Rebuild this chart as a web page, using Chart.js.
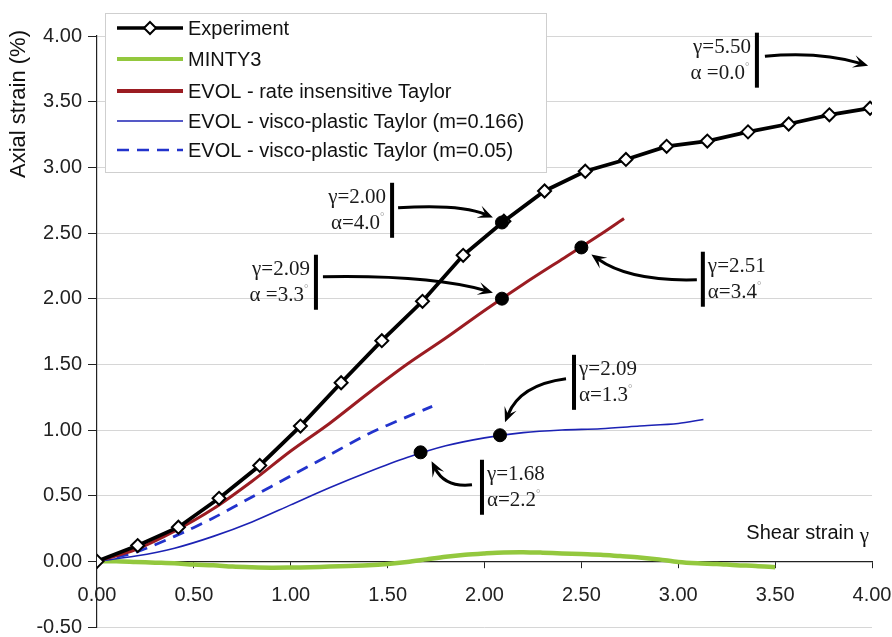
<!DOCTYPE html>
<html>
<head>
<meta charset="utf-8">
<script src="https://cdn.jsdelivr.net/npm/chart.js@4.4.1/dist/chart.umd.min.js"></script>
<style>
  html, body { margin: 0; padding: 0; background: #fff; }
</style>
</head>
<body>
<canvas id="strainChart" width="892" height="637"></canvas>
<script>
// ---- data ----
var expX = [0, 0.21, 0.42, 0.63, 0.84, 1.05, 1.26, 1.47, 1.68, 1.89, 2.10, 2.31, 2.52, 2.73, 2.94, 3.15, 3.36, 3.57, 3.78, 3.99, 4.00];
var expY = [0, 0.12, 0.26, 0.48, 0.73, 1.03, 1.36, 1.68, 1.98, 2.33, 2.59, 2.82, 2.97, 3.06, 3.16, 3.20, 3.27, 3.33, 3.40, 3.45, 3.46];

var mintyX = [0, 0.1, 0.2, 0.3, 0.4, 0.5, 0.6, 0.7, 0.8, 0.9, 1.0, 1.1, 1.2, 1.3, 1.4, 1.5, 1.6, 1.7, 1.8, 1.9, 2.0, 2.1, 2.2, 2.3, 2.4, 2.5, 2.6, 2.7, 2.8, 2.9, 3.0, 3.1, 3.2, 3.3, 3.4, 3.5];
var mintyY = [0, 0.0, -0.005, -0.01, -0.015, -0.025, -0.03, -0.04, -0.045, -0.048, -0.047, -0.045, -0.04, -0.035, -0.03, -0.02, -0.005, 0.015, 0.035, 0.05, 0.06, 0.068, 0.07, 0.066, 0.06, 0.055, 0.05, 0.04, 0.03, 0.015, -0.005, -0.015, -0.02, -0.03, -0.035, -0.045];

var rateX = [0, 0.2, 0.4, 0.6, 0.8, 1.0, 1.2, 1.4, 1.6, 1.8, 2.0, 2.2, 2.4, 2.6, 2.72];
var rateY = [0, 0.09, 0.23, 0.40, 0.61, 0.84, 1.05, 1.28, 1.50, 1.70, 1.91, 2.11, 2.30, 2.49, 2.61];

var visco166X = [0, 0.2, 0.4, 0.6, 0.8, 1.0, 1.2, 1.4, 1.6, 1.8, 2.0, 2.2, 2.4, 2.6, 2.8, 3.0, 3.13];
var visco166Y = [0, 0.04, 0.10, 0.19, 0.30, 0.43, 0.56, 0.68, 0.79, 0.88, 0.94, 0.98, 1.00, 1.01, 1.03, 1.05, 1.08];

var visco05X = [0, 0.2, 0.4, 0.6, 0.8, 1.0, 1.2, 1.4, 1.6, 1.73];
var visco05Y = [0, 0.07, 0.19, 0.33, 0.49, 0.65, 0.81, 0.97, 1.10, 1.18];

// highlighted points (black dots)
var dotX = [2.09, 2.09, 2.50, 1.67, 2.08];
var dotY = [2.58, 2.00, 2.39, 0.83, 0.96];

var seriesNames = [
  "Experiment",
  "MINTY3",
  "EVOL - rate insensitive Taylor",
  "EVOL - visco-plastic Taylor (m=0.166)",
  "EVOL - visco-plastic Taylor (m=0.05)"
];

// annotation labels: bar anchor in data units, the rest in pixel offsets
var notes = [
  { lines: ["γ=5.50", "α =0.0°"], bx: 3.406, by: 3.816, side: "left", from: [8, -4], ctrl: [63, -9], to: { x: 3.98, y: 3.774 }, toOff: [0, 0] },
  { lines: ["γ=2.00", "α=4.0°"], bx: 1.523, by: 2.673, side: "left", from: [6, -2.5], ctrl: [68, -6.5], to: { dot: 0 }, toOff: [-9, -5] },
  { lines: ["γ=2.09", "α =3.3°"], bx: 1.130, by: 2.125, side: "left", from: [7, -5.5], ctrl: [114, -7.5], to: { dot: 1 }, toOff: [-9, -6] },
  { lines: ["γ=2.51", "α=3.4°"], bx: 3.127, by: 2.148, side: "right", from: [-6, 0.5], ctrl: [-73, 2.5], to: { dot: 2 }, toOff: [10, 7] },
  { lines: ["γ=2.09", "α=1.3°"], bx: 2.462, by: 1.363, side: "right", from: [-8, -3.5], ctrl: [-54, 2.5], to: { dot: 4 }, toOff: [5, -13] },
  { lines: ["γ=1.68", "α=2.2°"], bx: 1.987, by: 0.564, side: "right", from: [-10, -2.5], ctrl: [-37, 0.5], to: { dot: 3 }, toOff: [11, 9] }
];

var colors = {
  exp: "#000000",
  minty: "#93c83e",
  rate: "#9b1c22",
  v166: "#1c22b4",
  v05: "#2233cc"
};

function pts(xs, ys) {
  return xs.map(function (x, i) { return { x: x, y: ys[i] }; });
}

var sansFont = '"Liberation Sans", Arial, sans-serif';
var serifFont = '"Liberation Serif", "Times New Roman", serif';

function noPad(scale) {
  scale.paddingLeft = 0;
  scale.paddingRight = 0;
  scale.paddingTop = 0;
  scale.paddingBottom = 0;
}

function arrowHead(ctx, x, y, ang) {
  var L = 15, W = 6.5;
  var c = Math.cos(ang), s = Math.sin(ang);
  ctx.beginPath();
  ctx.moveTo(x, y);
  ctx.lineTo(x - L * c + W * s, y - L * s - W * c);
  ctx.lineTo(x - 0.55 * L * c, y - 0.55 * L * s);
  ctx.lineTo(x - L * c - W * s, y - L * s + W * c);
  ctx.closePath();
  ctx.fill();
}

function noteText(ctx, txt, x, y, align) {
  var deg = txt.endsWith("°");
  var main = deg ? txt.slice(0, -1) : txt;
  ctx.font = "21px " + serifFont;
  var w = ctx.measureText(main).width;
  var degW = deg ? 6 : 0;
  var left = align === "right" ? x - w - degW : x;
  ctx.textAlign = "left";
  ctx.fillStyle = "#1a1a1a";
  ctx.fillText(main, left, y);
  if (deg) {
    ctx.font = "11px " + serifFont;
    ctx.fillStyle = "#999";
    ctx.fillText("°", left + w, y - 6);
  }
}

var overlay = {
  id: "overlay",
  afterDraw: function (chart) {
    var ctx = chart.ctx;
    var xs = chart.scales.x, ys = chart.scales.y;
    var area = chart.chartArea;
    ctx.save();

    // annotations
    notes.forEach(function (n) {
      var bx = xs.getPixelForValue(n.bx), by = ys.getPixelForValue(n.by);
      ctx.fillStyle = "#000";
      ctx.fillRect(bx - 2, by - 27.5, 4, 55);
      ctx.textBaseline = "middle";
      if (n.side === "left") {
        noteText(ctx, n.lines[0], bx - 6, by - 13, "right");
        noteText(ctx, n.lines[1], bx - 6, by + 13, "right");
      } else {
        noteText(ctx, n.lines[0], bx + 5, by - 13, "left");
        noteText(ctx, n.lines[1], bx + 5, by + 13, "left");
      }
      var tx, ty;
      if (n.to.dot !== undefined) {
        tx = xs.getPixelForValue(dotX[n.to.dot]);
        ty = ys.getPixelForValue(dotY[n.to.dot]);
      } else {
        tx = xs.getPixelForValue(n.to.x);
        ty = ys.getPixelForValue(n.to.y);
      }
      tx += n.toOff[0]; ty += n.toOff[1];
      var sx = bx + n.from[0], sy = by + n.from[1];
      var cx = bx + n.ctrl[0], cy = by + n.ctrl[1];
      var ang = Math.atan2(ty - cy, tx - cx);
      ctx.strokeStyle = "#000";
      ctx.lineWidth = 3;
      ctx.beginPath();
      ctx.moveTo(sx, sy);
      ctx.quadraticCurveTo(cx, cy, tx - 8 * Math.cos(ang), ty - 8 * Math.sin(ang));
      ctx.stroke();
      ctx.fillStyle = "#000";
      arrowHead(ctx, tx, ty, ang);
    });

    // legend box
    var lx = area.left + 8, ly = area.top - 23, lw = 441, lh = 159;
    ctx.fillStyle = "#fff";
    ctx.fillRect(lx, ly, lw, lh);
    ctx.strokeStyle = "#cfcfcf";
    ctx.lineWidth = 1;
    ctx.strokeRect(lx + 0.5, ly + 0.5, lw, lh);
    var rows = [15, 46, 78, 108, 137];
    var styles = [
      { c: colors.exp, w: 3.5, dash: [] },
      { c: colors.minty, w: 4, dash: [] },
      { c: colors.rate, w: 4, dash: [] },
      { c: colors.v166, w: 1.5, dash: [] },
      { c: colors.v05, w: 2.5, dash: [12, 8] }
    ];
    ctx.textBaseline = "middle";
    ctx.textAlign = "left";
    seriesNames.forEach(function (name, i) {
      var yy = ly + rows[i];
      var st = styles[i];
      ctx.strokeStyle = st.c;
      ctx.lineWidth = st.w;
      ctx.setLineDash(st.dash);
      ctx.beginPath();
      ctx.moveTo(lx + 12, yy);
      ctx.lineTo(lx + 78, yy);
      ctx.stroke();
      ctx.setLineDash([]);
      if (i === 0) {
        var mx = lx + 45;
        ctx.fillStyle = "#fff";
        ctx.lineWidth = 2;
        ctx.beginPath();
        ctx.moveTo(mx, yy - 6); ctx.lineTo(mx + 6, yy); ctx.lineTo(mx, yy + 6); ctx.lineTo(mx - 6, yy);
        ctx.closePath(); ctx.fill(); ctx.stroke();
      }
      ctx.fillStyle = "#111";
      ctx.font = "20px " + sansFont;
      ctx.fillText(name, lx + 83, yy + 1);
    });

    // axis titles
    ctx.fillStyle = "#111";
    ctx.font = "22px " + sansFont;
    ctx.save();
    ctx.translate(19, 104);
    ctx.rotate(-Math.PI / 2);
    ctx.textAlign = "center";
    ctx.textBaseline = "middle";
    ctx.fillText("Axial strain (%)", 0, 0);
    ctx.restore();

    var zeroY = ys.getPixelForValue(0);
    ctx.font = "21px " + serifFont;
    var gw = ctx.measureText("γ").width;
    ctx.textAlign = "right";
    ctx.textBaseline = "middle";
    ctx.fillText("γ", area.right - 3, zeroY - 25);
    ctx.font = "20px " + sansFont;
    ctx.fillText("Shear strain ", area.right - 3 - gw, zeroY - 28);
    ctx.restore();
  }
};

var ctx = document.getElementById("strainChart").getContext("2d");
var strainChart = new Chart(ctx, {
  type: "line",
  data: {
    datasets: [{
      label: "points",
      data: pts(dotX, dotY),
      showLine: false,
      pointRadius: 6.5,
      pointBackgroundColor: "#000",
      pointBorderColor: "#000",
      order: 0
    }, {
      label: seriesNames[0],
      data: pts(expX, expY),
      borderColor: colors.exp,
      borderWidth: 3.8,
      pointStyle: "rectRot",
      pointRadius: expX.map(function (x, i) { return i === expX.length - 1 ? 0 : 6.5; }),
      pointBackgroundColor: "#fff",
      pointBorderColor: "#000",
      pointBorderWidth: 2,
      tension: 0,
      order: 1
    }, {
      label: seriesNames[1],
      data: pts(mintyX, mintyY),
      borderColor: colors.minty,
      borderWidth: 4.5,
      pointRadius: 0,
      tension: 0.3,
      order: 5
    }, {
      label: seriesNames[2],
      data: pts(rateX, rateY),
      borderColor: colors.rate,
      borderWidth: 3,
      pointRadius: 0,
      tension: 0.3,
      order: 2
    }, {
      label: seriesNames[3],
      data: pts(visco166X, visco166Y),
      borderColor: colors.v166,
      borderWidth: 1.6,
      pointRadius: 0,
      tension: 0.3,
      order: 4
    }, {
      label: seriesNames[4],
      data: pts(visco05X, visco05Y),
      borderColor: colors.v05,
      borderWidth: 2.8,
      borderDash: [12, 8],
      pointRadius: 0,
      tension: 0.3,
      order: 3
    }]
  },
  options: {
    responsive: false,
    animation: false,
    devicePixelRatio: 1,
    layout: { padding: { left: 0, top: 36, right: 20, bottom: 10 } },
    scales: {
      x: {
        type: "linear",
        min: 0,
        max: 4,
        position: { y: 0 },
        afterFit: noPad,
        grid: { drawOnChartArea: false, tickLength: 6, tickColor: "#222" },
        border: { color: "#222", width: 1.2 },
        ticks: {
          stepSize: 0.5,
          padding: 16,
          color: "#222",
          font: { family: sansFont, size: 20 },
          callback: function (v) { return v.toFixed(2); }
        }
      },
      y: {
        min: -0.5,
        max: 4,
        afterFit: function (scale) { scale.width = 97; noPad(scale); },
        grid: { color: "#d6d6d6", tickLength: 9, tickColor: "#222" },
        border: { color: "#222", width: 1.2 },
        ticks: {
          stepSize: 0.5,
          padding: 6,
          color: "#222",
          font: { family: sansFont, size: 20 },
          callback: function (v) { return v.toFixed(2); }
        }
      }
    },
    plugins: {
      legend: { display: false },
      tooltip: { enabled: false }
    }
  },
  plugins: [overlay]
});
</script>
</body>
</html>
